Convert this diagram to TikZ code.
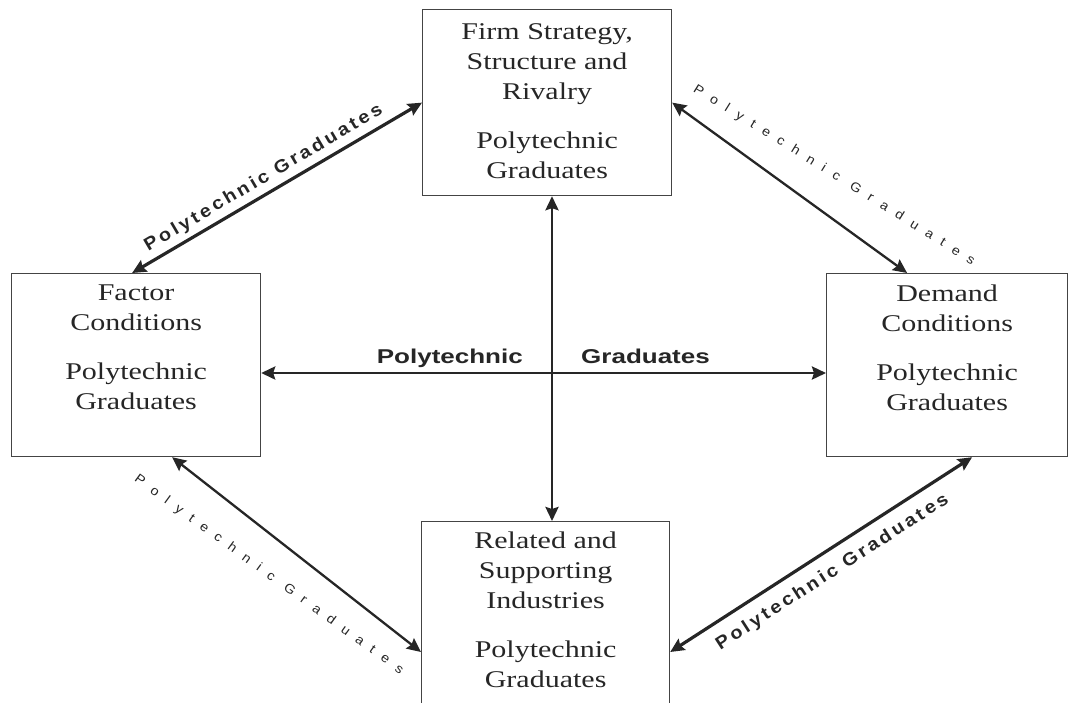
\documentclass[tikz,border=0pt]{standalone}
\usepackage{fontspec}
\setmainfont{Liberation Serif}[FakeStretch=1.25]
\newfontfamily\lblfont{Liberation Sans}[FakeStretch=1.1]
\newfontfamily\widefont{Liberation Sans}[FakeStretch=1.3]
\usetikzlibrary{positioning,arrows.meta}
\definecolor{ink}{HTML}{262626}
\definecolor{rim}{HTML}{444444}
\newcommand{\grads}{Polytechnic\\Graduates}

\begin{document}
\begin{tikzpicture}[x=1pt,y=-1pt,
	>={Stealth[length=14pt,width=13pt,inset=2pt]},
	box/.style={draw=rim, line width=1.2pt, anchor=north west, inner sep=0pt},
	boxtext/.style={align=center, inner sep=0pt, text=ink, font=\fontsize{24}{30}\selectfont},
	link/.style={<->, draw=ink, line width=2.8pt},
	boldlink/.style={link, line width=3.2pt},
	thinlink/.style={link, line width=2.3pt},
	boldlbl/.style={sloped, inner sep=0pt, text=ink,
		font={\lblfont\bfseries\fontsize{18}{20}\selectfont\addfontfeature{LetterSpace=17}}},
	thinlbl/.style={sloped, inner sep=0pt, text=ink,
		font={\lblfont\fontsize{13}{15}\selectfont\addfontfeature{LetterSpace=75}}},
	hlbl/.style={inner sep=0pt, text depth=0pt, text=ink,
		font={\widefont\bfseries\fontsize{20}{22}\selectfont}}]
	\useasboundingbox (0,0) rectangle (1070,702);
%The four boxes
	\node[box, minimum width=249pt, minimum height=186pt] (firm) at (422,9) {};
	\node[box, minimum width=249pt, minimum height=183pt] (factor) at (11,273) {};
	\node[box, minimum width=241pt, minimum height=183pt] (demand) at (826,273) {};
	\node[box, minimum width=248pt, minimum height=209pt] (related) at (421,521) {};
%Their texts
	\node[boxtext, below=14pt of firm.north] (firmtext)
		{Firm Strategy,\\Structure and\\Rivalry\\[19pt]\grads};
	\node[boxtext, below=12pt of factor.north] (factortext)
		{Factor\\Conditions\\[19pt]\grads};
	\node[boxtext, below=12pt of demand.north] (demandtext)
		{Demand\\Conditions\\[19pt]\grads};
	\node[boxtext, below=11pt of related.north] (relatedtext)
		{Related and\\Supporting\\Industries\\[19pt]\grads};
%The cross
	\coordinate (cross) at (552,373);
	\draw[link] (firm.south -| cross) -- (related.north -| cross);
	\draw[link] (factor.east |- cross) -- (demand.west |- cross);
	\node[hlbl, above left=9pt and 29pt of cross] (hleft) {Polytechnic};
	\node[hlbl, above right=9pt and 29pt of cross] (hright) {Graduates};
%The diamond
	\draw[boldlink] (firm.west) -- node[boldlbl, pos=0.52, above=5pt] (tl)
		{Polytechnic Graduates} ([xshift=-4pt]factor.north);
	\draw[thinlink] (firm.east) -- node[thinlbl, pos=0.6, above=29pt, rotate=4] (tr)
		{Polytechnic Graduates} ([xshift=-40pt]demand.north);
	\draw[thinlink] ([xshift=36pt]factor.south) -- node[thinlbl, pos=0.47, below=26pt, rotate=2] (bl)
		{Polytechnic Graduates} ([yshift=-131pt]related.north west);
	\draw[boldlink] ([xshift=25pt]demand.south) -- node[boldlbl, pos=0.5, below=11pt] (br)
		{Polytechnic Graduates} ([yshift=-131pt]related.north east);
\end{tikzpicture}
\end{document}
